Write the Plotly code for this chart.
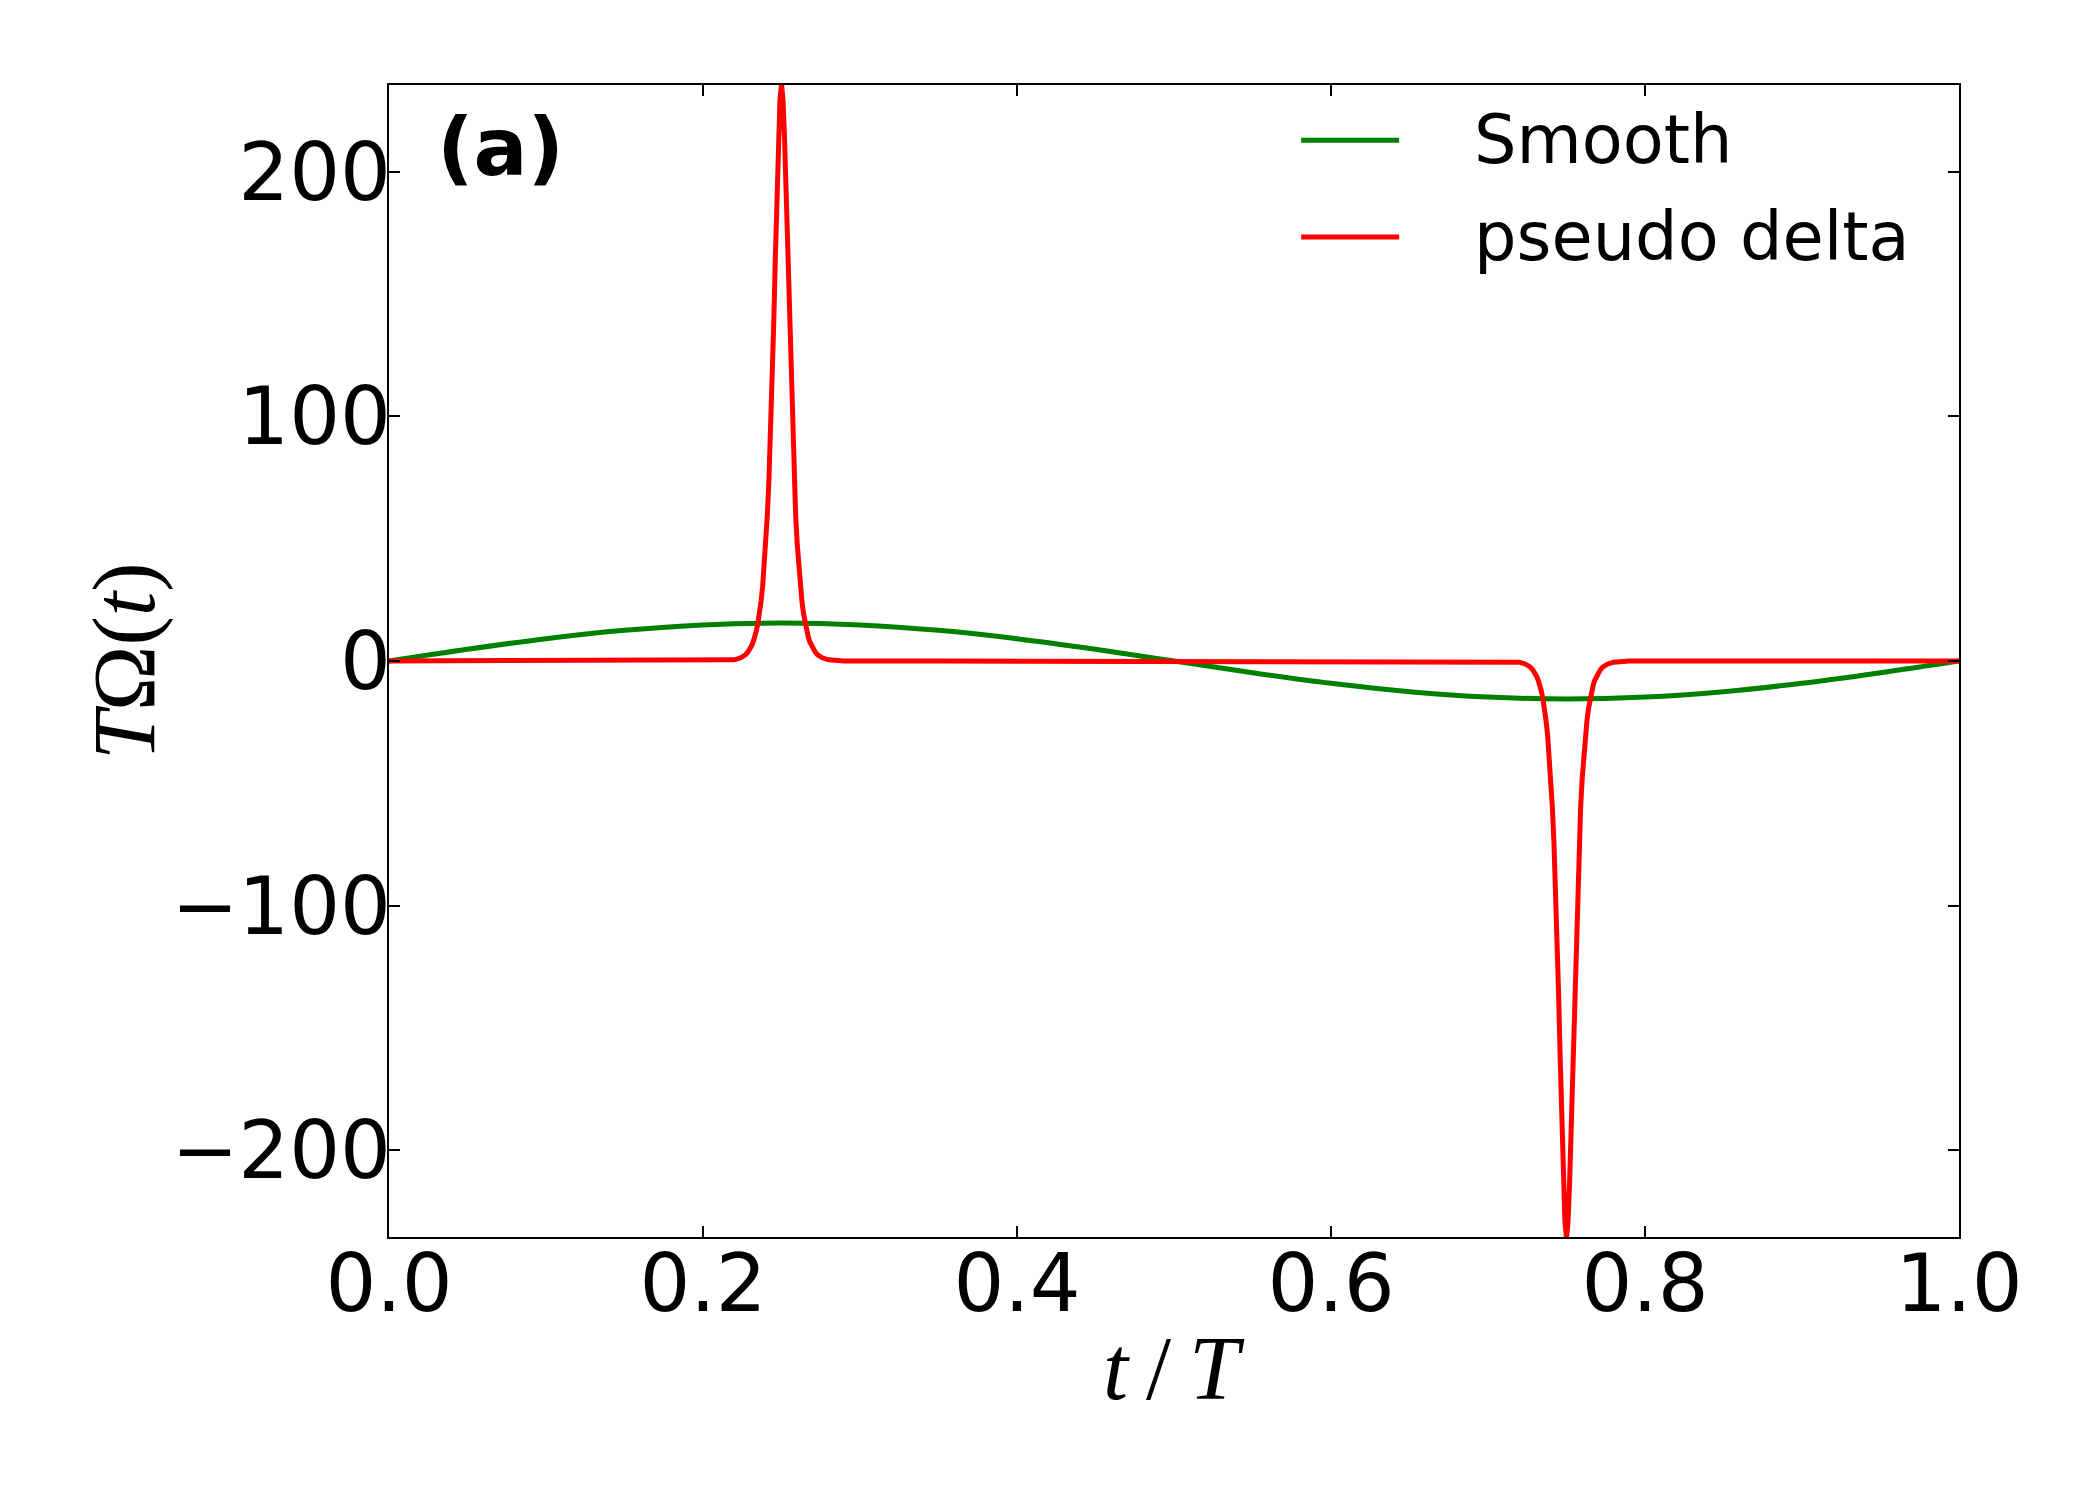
import plotly.graph_objects as go

# ---------------- data ----------------
smooth_t = [0.00, 0.05, 0.10, 0.15, 0.20, 0.25, 0.30, 0.35, 0.40, 0.45, 0.50,
            0.55, 0.60, 0.65, 0.70, 0.75, 0.80, 0.85, 0.90, 0.95, 1.00]
smooth_v = [0.0, 4.79, 9.11, 12.54, 14.74, 15.5, 14.74, 12.54, 9.11, 4.79, 0.0,
            -4.79, -9.11, -12.54, -14.74, -15.5, -14.74, -12.54, -9.11, -4.79, 0.0]

delta_t = [0.0, 0.1, 0.2,
           0.21, 0.215, 0.22, 0.224, 0.2255, 0.227, 0.2285, 0.23, 0.231, 0.232, 0.233,
           0.234, 0.235, 0.236, 0.237, 0.238, 0.239,
           0.24, 0.241, 0.242, 0.243, 0.244, 0.245, 0.246, 0.247, 0.248, 0.249,
           0.25,
           0.251, 0.252, 0.253, 0.254, 0.255, 0.256, 0.257, 0.258, 0.259, 0.26,
           0.261, 0.262, 0.263, 0.264, 0.265, 0.266, 0.267, 0.268, 0.269, 0.27,
           0.2715, 0.273, 0.2745, 0.276, 0.28, 0.285, 0.29,
           0.35, 0.5, 0.65, 0.7,
           0.71, 0.715, 0.72, 0.724, 0.7255, 0.727, 0.7285, 0.73, 0.731, 0.732, 0.733,
           0.734, 0.735, 0.736, 0.737, 0.738, 0.739,
           0.74, 0.741, 0.742, 0.743, 0.744, 0.745, 0.746, 0.747, 0.748, 0.749,
           0.75,
           0.751, 0.752, 0.753, 0.754, 0.755, 0.756, 0.757, 0.758, 0.759, 0.76,
           0.761, 0.762, 0.763, 0.764, 0.765, 0.766, 0.767, 0.768, 0.769, 0.77,
           0.7715, 0.773, 0.7745, 0.776, 0.78, 0.785, 0.79,
           0.8, 0.9, 1.0]
delta_v = [0.0, 0.0, 0.0,
           0.05, 0.17, 0.5, 1.3, 1.8, 2.5, 3.6, 5.0, 6.3, 7.9, 9.9,
           12.4, 15.6, 19.5, 24.5, 30.6, 38.5,
           48.0, 59.8, 74.3, 92.1, 112.7, 136.7, 163.0, 189.3, 212.7, 229.1,
           236.0,
           229.1, 212.7, 189.3, 163.0, 136.7, 112.7, 92.1, 74.3, 59.8, 48.0,
           38.5, 30.6, 24.5, 19.5, 15.6, 12.4, 9.9, 7.9, 6.3, 5.0,
           3.6, 2.5, 1.8, 1.3, 0.5, 0.17, 0.05,
           0.0, 0.0, 0.0, 0.0,
           -0.05, -0.17, -0.5, -1.3, -1.8, -2.5, -3.6, -5.0, -6.3, -7.9, -9.9,
           -12.4, -15.6, -19.5, -24.5, -30.6, -38.5,
           -48.0, -59.8, -74.3, -92.1, -112.7, -136.7, -163.0, -189.3, -212.7, -229.1,
           -236.0,
           -229.1, -212.7, -189.3, -163.0, -136.7, -112.7, -92.1, -74.3, -59.8, -48.0,
           -38.5, -30.6, -24.5, -19.5, -15.6, -12.4, -9.9, -7.9, -6.3, -5.0,
           -3.6, -2.5, -1.8, -1.3, -0.5, -0.17, -0.05,
           0.0, 0.0, 0.0]

series_names = ["Smooth", "pseudo delta"]
series_colors = ["#008000", "#ff0000"]

x_tickvals = [0.0, 0.2, 0.4, 0.6, 0.8, 1.0]
x_ticktext = ["0.0", "0.2", "0.4", "0.6", "0.8", "1.0"]
y_tickvals = [-200, -100, 0, 100, 200]
y_ticktext = ["\u2212200", "\u2212100", "0", "100", "200"]

panel_label = "(a)"
x_title = "<i>t</i>\u2009/\u2009<i>T</i>"
y_title = "<i>T</i>\u03a9(<i>t</i>)"

# ---------------- figure ----------------
fig = go.Figure()
fig.add_trace(go.Scatter(x=smooth_t, y=smooth_v, mode="lines", name=series_names[0],
                         line=dict(color=series_colors[0], width=5, shape="spline", smoothing=1.0),
                         showlegend=False))
fig.add_trace(go.Scatter(x=delta_t, y=delta_v, mode="lines", name=series_names[1],
                         line=dict(color=series_colors[1], width=5),
                         showlegend=False))

W, H = 2100, 1500
ml, mr, mt, mb = 389, 141, 85, 263

axis_common = dict(showline=True, linecolor="black", linewidth=2, mirror="ticks",
                   ticks="inside", ticklen=11, tickwidth=1.5, tickcolor="black",
                   showgrid=False, zeroline=False,
                   tickfont=dict(family="DejaVu Sans", size=80, color="black"))

fig.update_xaxes(range=[0, 1], tickvals=x_tickvals, ticktext=x_ticktext,
                 ticklabelstandoff=-24, **axis_common)
fig.update_yaxes(range=[-235.5, 235.5], tickvals=y_tickvals, ticktext=y_ticktext,
                 ticklabelstandoff=-20, **axis_common)

annotations = [
    dict(text=panel_label, xref="paper", yref="paper", x=0.029, y=0.946,
         xanchor="left", yanchor="middle", showarrow=False,
         font=dict(family="DejaVu Sans", size=80, color="black", weight="bold")),
    dict(text=x_title, xref="paper", yref="paper", x=0.5, y=(1237 - 1368) / 1152,
         xanchor="center", yanchor="middle", showarrow=False,
         font=dict(family="Liberation Serif", size=90, color="black")),
    dict(text=y_title, xref="paper", yref="paper", x=(124 - 389) / 1569.7, y=0.5,
         xanchor="center", yanchor="middle", showarrow=False, textangle=-90,
         font=dict(family="Liberation Serif", size=88, color="black")),
]

# manual legend (matplotlib-style long handles)
legend_y = [0.952, 0.868]
shapes = []
for i, name in enumerate(series_names):
    shapes.append(dict(type="line", xref="paper", yref="paper",
                       x0=0.581, x1=0.6434, y0=legend_y[i], y1=legend_y[i],
                       line=dict(color=series_colors[i], width=5)))
    annotations.append(dict(text=name, xref="paper", yref="paper", x=0.6895, y=legend_y[i],
                            xanchor="left", yanchor="middle", showarrow=False,
                            font=dict(family="DejaVu Sans", size=67, color="black")))

fig.update_layout(width=W, height=H, margin=dict(l=ml, r=mr, t=mt, b=mb),
                  paper_bgcolor="white", plot_bgcolor="white",
                  annotations=annotations, shapes=shapes, showlegend=False)

fig.write_html("out.html")
